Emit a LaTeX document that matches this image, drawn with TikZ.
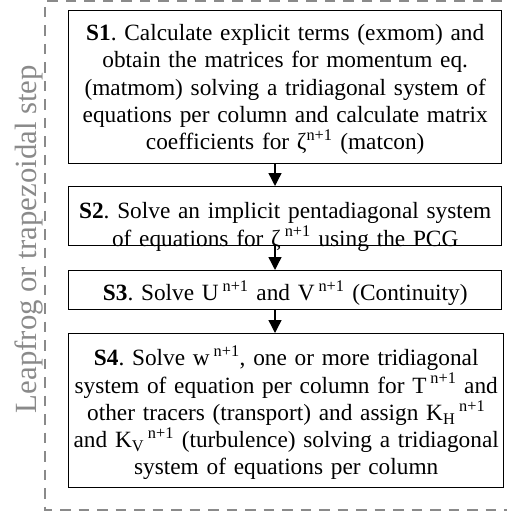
\documentclass[tikz,border=0pt]{standalone}
\usepackage{fontspec}
\setmainfont{Liberation Serif}
\usepackage{xcolor}
\usetikzlibrary{arrows.meta}
\definecolor{framegray}{RGB}{138,138,138}
\frenchspacing

\begin{document}
\begin{tikzpicture}[x=1pt, y=-1pt,
  stepbox/.style={draw, line width=1.4pt, inner xsep=1pt, inner ysep=0pt,
    anchor=north west, text width=431pt, align=center,
    font=\fontsize{23.3}{27.3}\selectfont},
  flow/.style={-{Triangle[length=13pt,width=13pt]}, line width=1.4pt},
  framebox/.style={draw=framegray, line width=2pt, dash pattern=on 10.5pt off 8pt}]
  \useasboundingbox (0,0) rectangle (506,513);

  % Dashed frame of the time step
  \draw[framebox] (520,1) -- (45,1) -- (45,510) -- (520,510);
  \node[framegray, rotate=90, anchor=base, font=\fontsize{30.8}{36}\selectfont]
    (loop) at (36.5,239) {Leapfrog or trapezoidal step};

  % Steps
  \node[stepbox, text height=30pt, text depth=123pt] (s1) at (68,10)
    {\textbf{S1}. Calculate explicit terms (exmom) and\\
     obtain the matrices for momentum eq.\\
     (matmom) solving a tridiagonal system of\\
     equations per column and calculate matrix\\
     coefficients for ζ\textsuperscript{n+1} (matcon)};
  \node[stepbox, text height=32pt, text depth=27pt] (s2) at (68,186)
    {\textbf{S2}. Solve an implicit pentadiagonal system\\
     of equations for ζ\,\textsuperscript{n+1} using the PCG};
  \node[stepbox, text height=30pt, text depth=9pt] (s3) at (68,270)
    {\textbf{S3}. Solve U\,\textsuperscript{n+1} and V\,\textsuperscript{n+1} (Continuity)};
  \node[stepbox, text width=433pt, text height=32pt, text depth=122pt] (s4) at (68,333)
    {\textbf{S4}. Solve w\,\textsuperscript{n+1}, one or more tridiagonal\\
     system of equation per column for T\,\textsuperscript{n+1} and\\
     other tracers (transport) and assign K\textsubscript{H}\,\textsuperscript{n+1}\\
     and K\textsubscript{V}\,\textsuperscript{n+1} (turbulence) solving a tridiagonal\\
     system of equations per column};

  % Arrows between steps
  \coordinate (ax) at (275,0);
  \draw[flow] (s1.south -| ax) -- (s2.north -| ax);
  \draw[flow] (s2.south -| ax) -- (s3.north -| ax);
  \draw[flow] (s3.south -| ax) -- (s4.north -| ax);
\end{tikzpicture}
\end{document}
